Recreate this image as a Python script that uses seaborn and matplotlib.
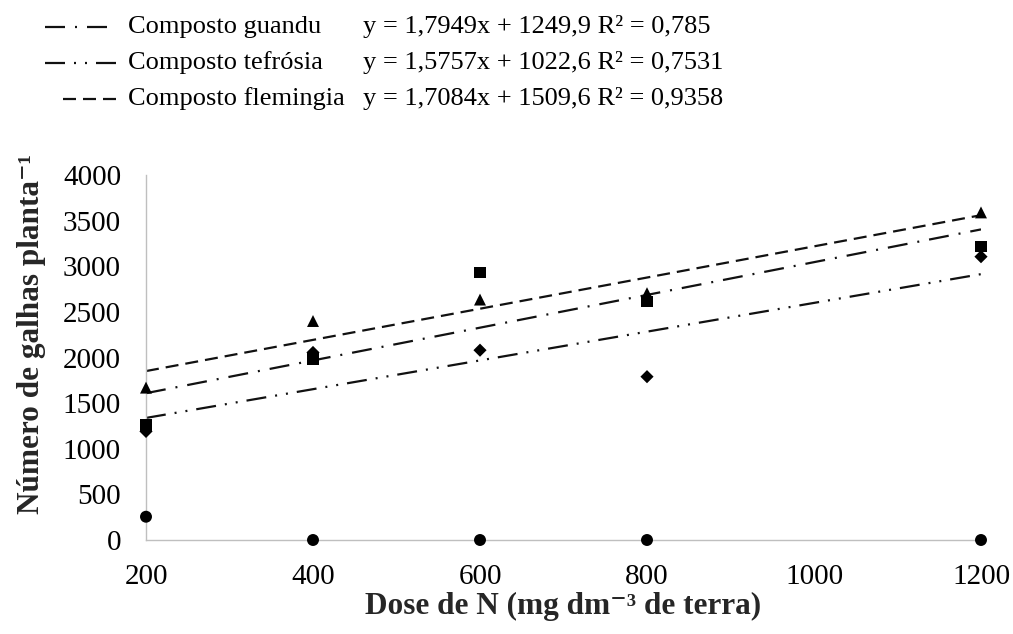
import matplotlib
matplotlib.use("Agg")
import matplotlib.pyplot as plt
from matplotlib.lines import Line2D
import pandas as pd
import seaborn as sns

# Doses de N (mg dm-3) e número de galhas por planta
doses = [200, 400, 600, 800, 1200]
guandu = [1260, 1985, 2930, 2610, 3220]
tefrosia = [1190, 2055, 2080, 1790, 3105]
flemingia = [1670, 2400, 2635, 2705, 3590]
testemunha = [255, 0, 0, 0, 0]

series = ["Composto guandu", "Composto tefrósia", "Composto flemingia"]
slopes = [1.7949, 1.5757, 1.7084]
intercepts = [1249.9, 1022.6, 1509.6]
equations = [
    "y = 1,7949x + 1249,9 R² = 0,785",
    "y = 1,5757x + 1022,6 R² = 0,7531",
    "y = 1,7084x + 1509,6 R² = 0,9358",
]

x_ticks = [200, 400, 600, 800, 1000, 1200]
y_ticks = [0, 500, 1000, 1500, 2000, 2500, 3000, 3500, 4000]

sns.set_theme(style="white")
plt.rcParams["font.family"] = ["Liberation Serif", "DejaVu Serif"]
plt.rcParams["lines.scale_dashes"] = False

W, H = 1013, 634
fig = plt.figure(figsize=(W / 100, H / 100), dpi=100)
ax = fig.add_axes([146 / W, 1 - 540 / H, (981 - 146) / W, (540 - 175) / H])

PX = 1 / 1.3889  # pixels -> points
ink = "#111111"
dash_map = {
    "Composto guandu": (20 * PX, 10 * PX, 2 * PX, 10 * PX),
    "Composto tefrósia": (20 * PX, 9 * PX, 2 * PX, 9 * PX, 2 * PX, 9 * PX),
    "Composto flemingia": (13 * PX, 7 * PX),
}

# Linhas de tendência a partir das equações ajustadas
trend = pd.DataFrame(
    [
        {"serie": s, "dose": x, "galhas": b * x + a}
        for s, b, a in zip(series, slopes, intercepts)
        for x in (x_ticks[0], x_ticks[-1])
    ]
)
sns.lineplot(
    data=trend, x="dose", y="galhas", style="serie", dashes=dash_map,
    color=ink, linewidth=1.6, legend=False, ax=ax, zorder=2,
)

# Pontos observados
points = pd.DataFrame(
    {
        "dose": doses * 4,
        "galhas": guandu + tefrosia + flemingia + testemunha,
        "serie": ["Composto guandu"] * 5 + ["Composto tefrósia"] * 5
        + ["Composto flemingia"] * 5 + ["Testemunha"] * 5,
    }
)
marker_map = {
    "Composto guandu": "s",
    "Composto tefrósia": "D",
    "Composto flemingia": "^",
    "Testemunha": "o",
}
size_map = {
    "Composto guandu": 66,
    "Composto tefrósia": 45,
    "Composto flemingia": 74,
    "Testemunha": 74,
}
sns.scatterplot(
    data=points, x="dose", y="galhas", style="serie", markers=marker_map,
    size="serie", sizes=size_map, color="black", linewidth=0,
    legend=False, ax=ax, zorder=3, clip_on=False,
)

ax.set_xlim(200, 1200)
ax.set_ylim(0, 4000)
ax.set_xticks(x_ticks)
ax.set_yticks(y_ticks)
ax.tick_params(axis="both", length=0, labelsize=21, colors="black")
ax.tick_params(axis="x", pad=17)
ax.tick_params(axis="y", pad=18)
for side in ("top", "right"):
    ax.spines[side].set_visible(False)
for side in ("left", "bottom"):
    ax.spines[side].set_color("#bfbfbf")
    ax.spines[side].set_linewidth(1.0)
ax.grid(False)

ax.set_xlabel("Dose de N (mg dm⁻³ de terra)", fontsize=22.5, fontweight="bold", labelpad=2)
ax.set_ylabel("Número de galhas planta⁻¹", fontsize=22.5, fontweight="bold")
ax.yaxis.set_label_coords(-0.12, 0.565)

# Legenda com amostras de linha, nomes e equações
rows_y = [27, 63, 99]
sample_x = [(45, 107), (45, 116), (63, 116)]
for s, y, (x0, x1) in zip(series, rows_y, sample_x):
    ln = Line2D([x0 / W, x1 / W], [1 - y / H, 1 - y / H], transform=fig.transFigure,
                color=ink, linewidth=1.6)
    ln.set_dashes(dash_map[s])
    fig.add_artist(ln)
    fig.text(128 / W, 1 - y / H, s, fontsize=19, va="center", ha="left", color="black")
for y, eq in zip(rows_y, equations):
    fig.text(363 / W, 1 - y / H, eq, fontsize=19, va="center", ha="left", color="black")

fig.savefig("out.png", dpi=100, facecolor="white")
